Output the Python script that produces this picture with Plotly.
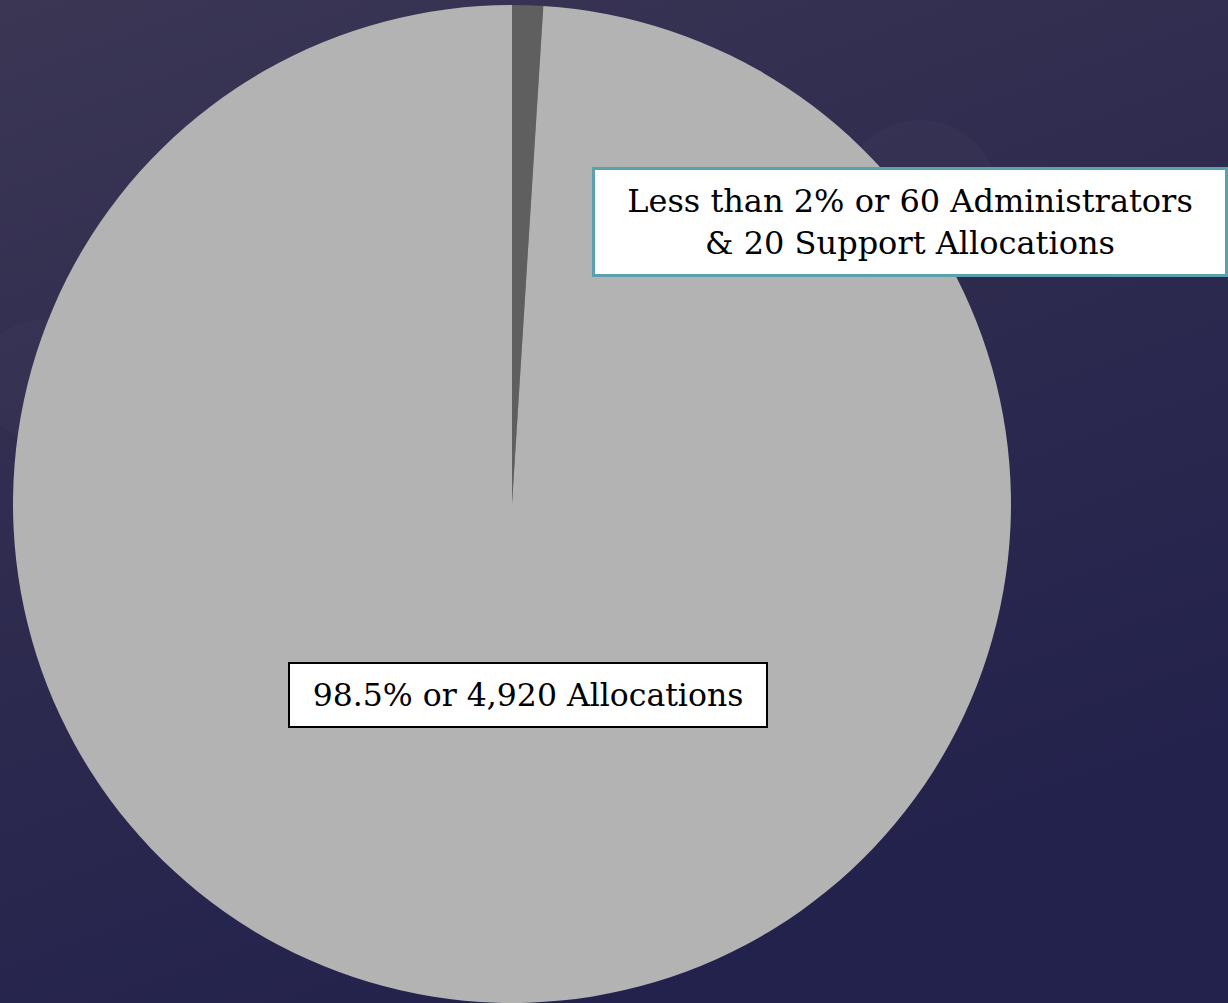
import plotly.graph_objects as go
import base64

# Data (shares, in percent)
labels = ["Administrators & Support", "Allocations"]
shares = [1.0, 99.0]
slice_colors = ["#5f5f5f", "#b3b3b3"]

label_small = "Less than 2% or 60 Administrators<br>& 20 Support Allocations"
label_large = "98.5% or 4,920 Allocations"

W, H = 1228, 1003

svg = f'''<svg xmlns="http://www.w3.org/2000/svg" width="{W}" height="{H}" viewBox="0 0 {W} {H}">
<defs><linearGradient id="g" x1="0" y1="0" x2="0.45" y2="1">
<stop offset="0" stop-color="#3b3654"/>
<stop offset="0.5" stop-color="#2e2b4f"/>
<stop offset="1" stop-color="#23224c"/>
</linearGradient></defs>
<rect width="{W}" height="{H}" fill="url(#g)"/>
<circle cx="920" cy="200" r="80" fill="#ffffff" fill-opacity="0.02"/>
<circle cx="40" cy="380" r="60" fill="#ffffff" fill-opacity="0.015"/>
</svg>'''
bg_src = "data:image/svg+xml;base64," + base64.b64encode(svg.encode()).decode()

fig = go.Figure()
fig.add_trace(go.Pie(
    labels=labels,
    values=shares,
    sort=False,
    direction="clockwise",
    rotation=0,
    marker=dict(colors=slice_colors, line=dict(width=0)),
    textinfo="none",
    hoverinfo="label+percent",
    domain=dict(x=[12 / W, 1012 / W], y=[0.0, 0.995]),
    showlegend=False,
))

FONT = "DejaVu Serif, Liberation Serif, serif"
fig.add_annotation(
    text=label_small, xref="paper", yref="paper",
    x=909.5 / W, y=1 - 221.5 / H, xanchor="center", yanchor="middle",
    showarrow=False, align="center",
    width=630, height=104,
    bgcolor="#ffffff", bordercolor="#5aa0ad", borderwidth=3, borderpad=0,
    font=dict(family=FONT, size=32, color="#000000"),
)
fig.add_annotation(
    text=label_large, xref="paper", yref="paper",
    x=528 / W, y=1 - 695 / H, xanchor="center", yanchor="middle",
    showarrow=False, align="center",
    width=476, height=62,
    bgcolor="#ffffff", bordercolor="#000000", borderwidth=2, borderpad=0,
    font=dict(family=FONT, size=31.5, color="#000000"),
)

fig.add_layout_image(
    source=bg_src, xref="paper", yref="paper", x=0, y=1,
    sizex=1, sizey=1, xanchor="left", yanchor="top",
    sizing="stretch", layer="below",
)

fig.update_layout(
    width=W, height=H,
    margin=dict(l=0, r=0, t=0, b=0),
    paper_bgcolor="#2d2a4d",
    plot_bgcolor="rgba(0,0,0,0)",
)

fig.write_html(
    "out.html",
    config={"displayModeBar": False},
    post_script="document.body.style.margin='0';document.body.style.overflow='hidden';",
)
